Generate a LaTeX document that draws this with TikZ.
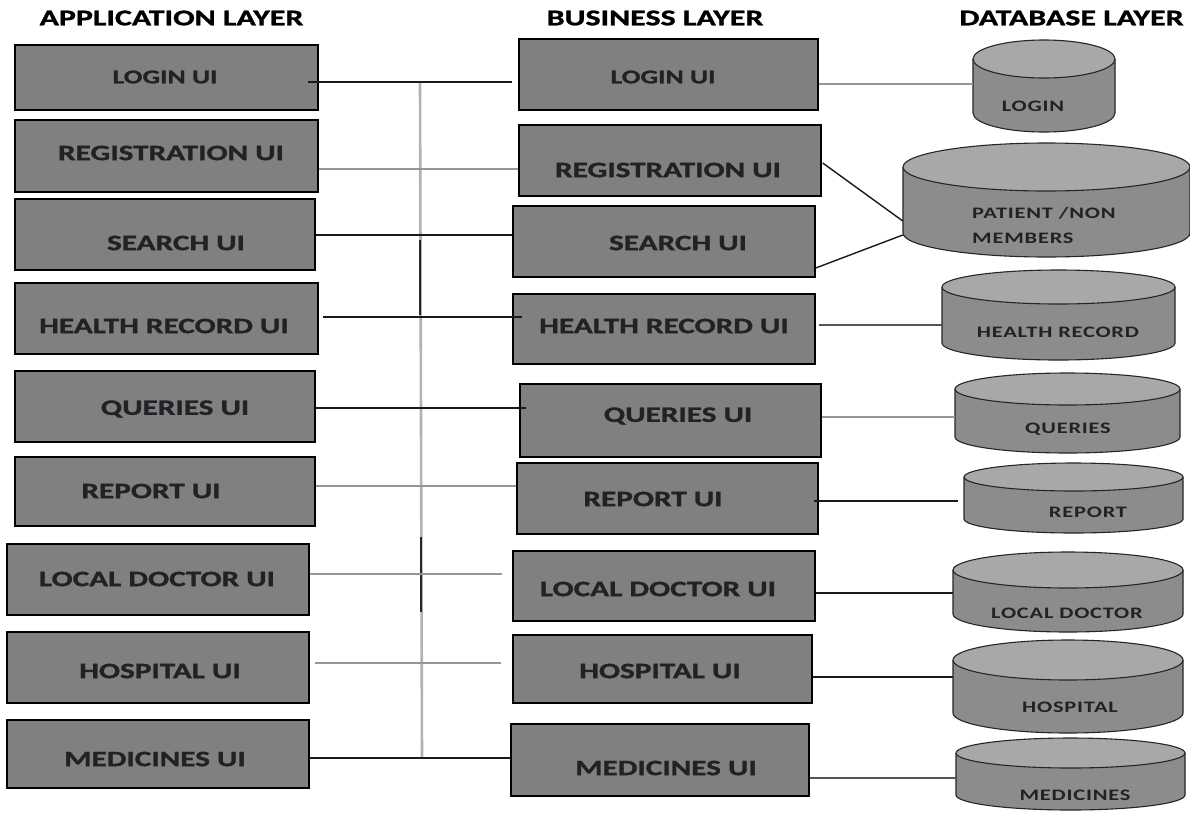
\documentclass[tikz,border=0pt]{standalone}
\usepackage{fontspec}
\setmainfont{Carlito}[FakeStretch=1.42, FakeBold=1.2]
\newfontfamily\cylfont{Carlito}[FakeStretch=1.4, LetterSpace=5]
\usetikzlibrary{calc}
\definecolor{boxgray}{RGB}{128,128,128}
\definecolor{cylbodyc}{RGB}{140,140,140}
\definecolor{cyltopc}{RGB}{168,168,168}
\definecolor{txtc}{RGB}{34,34,38}
\definecolor{linegray}{RGB}{150,150,150}
\definecolor{linedark}{RGB}{85,85,85}
\definecolor{busgray}{RGB}{178,178,178}

\newcommand{\dbcyl}[5]{%
  \pgfmathsetmacro{\cyA}{(#1+#2)/2}%
  \pgfmathsetmacro{\cyR}{(#2-#1)/2}%
  \pgfmathsetmacro{\cyT}{#3+#5}%
  \pgfmathsetmacro{\cyB}{#4-#5}%
  \pgfmathsetmacro{\cyKx}{0.5523*\cyR}%
  \pgfmathsetmacro{\cyKy}{0.5523*#5}%
  \filldraw[cylside] (#1,\cyT) -- (#1,\cyB) .. controls (#1,\cyB+\cyKy) and (\cyA-\cyKx,#4) .. (\cyA,#4) .. controls (\cyA+\cyKx,#4) and (#2,\cyB+\cyKy) .. (#2,\cyB) -- (#2,\cyT);
  \filldraw[cyltop] (\cyA,\cyT) ellipse [x radius=\cyR pt, y radius=#5 pt];
}

\tikzset{
  ubox/.style={draw=black, line width=1.4pt, fill=boxgray, inner sep=0pt},
  lbl/.style={font=\bfseries\fontsize{22}{22}\selectfont, text=txtc, inner sep=0pt},
  lblsmall/.style={font=\bfseries\fontsize{19.5}{19.5}\selectfont, text=txtc, inner sep=0pt},
  hdr/.style={font=\bfseries\fontsize{22.5}{22.5}\selectfont, text=black, inner sep=0pt},
  cylnode/.style={inner sep=0pt, draw=none},
  cyllbl/.style={font=\cylfont\bfseries\fontsize{16}{25}\selectfont, text=txtc, inner sep=0pt},
  cylside/.style={fill=cylbodyc, draw=black!85, line width=1.1pt},
  cyltop/.style={fill=cyltopc, draw=black!85, line width=1.1pt},
  blk/.style={draw=black!90, line width=1.4pt},
  gry/.style={draw=linegray, line width=1.8pt},
  drk/.style={draw=linedark, line width=1.6pt},
  bus/.style={draw=busgray, line width=2.6pt},
  busblk/.style={draw=black!85, line width=1.8pt}
}

\begin{document}
\begin{tikzpicture}[x=1pt, y=-1pt]
\path[use as bounding box, fill=white] (0,0) rectangle (1190,812);

% headers
\node[hdr] (h1) at (171.5,18) {APPLICATION LAYER};
\node[hdr] (h2) at (655,18) {BUSINESS LAYER};
\node[hdr] (h3) at (1071.5,18) {DATABASE LAYER};

% application layer boxes
\node[ubox, minimum width=303pt, minimum height=65pt] (a1) at (166.5,77.5) {};
\node[ubox, minimum width=303pt, minimum height=72pt] (a2) at (166.5,156) {};
\node[ubox, minimum width=300pt, minimum height=71pt] (a3) at (165,234.5) {};
\node[ubox, minimum width=303pt, minimum height=71pt] (a4) at (166.5,318.5) {};
\node[ubox, minimum width=300pt, minimum height=71pt] (a5) at (165,406.5) {};
\node[ubox, minimum width=300pt, minimum height=69pt] (a6) at (165,491.5) {};
\node[ubox, minimum width=302pt, minimum height=71pt] (a7) at (158,579.5) {};
\node[ubox, minimum width=302pt, minimum height=71pt] (a8) at (158,667.5) {};
\node[ubox, minimum width=302pt, minimum height=68pt] (a9) at (158,754) {};

\node[lblsmall] (a1t) at (165,77) {LOGIN UI};
\node[lbl] (a2t) at (171,153) {REGISTRATION UI};
\node[lbl] (a3t) at (176,243) {SEARCH UI};
\node[lbl] (a4t) at (164,326) {HEALTH RECORD UI};
\node[lbl] (a5t) at (175,409) {QUERIES UI};
\node[lbl] (a6t) at (151,491) {REPORT UI};
\node[lbl] (a7t) at (157,579) {LOCAL DOCTOR UI};
\node[lbl] (a8t) at (160,671) {HOSPITAL UI};
\node[lbl] (a9t) at (155,759) {MEDICINES UI};

% business layer boxes
\node[ubox, minimum width=299pt, minimum height=71pt] (b1) at (668.5,74.5) {};
\node[ubox, minimum width=302pt, minimum height=71pt] (b2) at (670,160.5) {};
\node[ubox, minimum width=302pt, minimum height=71pt] (b3) at (664,241.5) {};
\node[ubox, minimum width=302pt, minimum height=70pt] (b4) at (664,329) {};
\node[ubox, minimum width=301pt, minimum height=73pt] (b5) at (670.5,420.5) {};
\node[ubox, minimum width=301pt, minimum height=71pt] (b6) at (667.5,498.5) {};
\node[ubox, minimum width=302pt, minimum height=70pt] (b7) at (664,586) {};
\node[ubox, minimum width=299pt, minimum height=68pt] (b8) at (662.5,669) {};
\node[ubox, minimum width=298pt, minimum height=72pt] (b9) at (660,760) {};

\node[lblsmall] (b1t) at (663,77) {LOGIN UI};
\node[lbl] (b2t) at (668,170) {REGISTRATION UI};
\node[lbl] (b3t) at (678,243) {SEARCH UI};
\node[lbl] (b4t) at (664,326) {HEALTH RECORD UI};
\node[lbl] (b5t) at (678,416) {QUERIES UI};
\node[lbl] (b6t) at (653,499) {REPORT UI};
\node[lbl] (b7t) at (658,589) {LOCAL DOCTOR UI};
\node[lbl] (b8t) at (660,671) {HOSPITAL UI};
\node[lbl] (b9t) at (666,768) {MEDICINES UI};

% database layer cylinders
\dbcyl{973}{1115}{40}{132}{19}
\dbcyl{903}{1190}{143}{257}{24}
\dbcyl{942}{1175}{270}{360}{17}
\dbcyl{955}{1180}{373}{453}{16}
\dbcyl{964}{1183}{463}{533}{14}
\dbcyl{953}{1183}{552}{632}{18}
\dbcyl{953}{1183}{640}{733}{20}
\dbcyl{956}{1185}{738}{810}{15}

\node[cylnode, minimum width=142pt, minimum height=92pt] (d1) at (1044,86) {};
\node[cylnode, minimum width=287pt, minimum height=114pt] (d2) at (1046.5,200) {};
\node[cylnode, minimum width=233pt, minimum height=90pt] (d3) at (1058.5,315) {};
\node[cylnode, minimum width=225pt, minimum height=80pt] (d4) at (1067.5,413) {};
\node[cylnode, minimum width=219pt, minimum height=70pt] (d5) at (1073.5,498) {};
\node[cylnode, minimum width=230pt, minimum height=80pt] (d6) at (1068,592) {};
\node[cylnode, minimum width=230pt, minimum height=93pt] (d7) at (1068,686.5) {};
\node[cylnode, minimum width=229pt, minimum height=72pt] (d8) at (1070.5,774) {};

\node[cyllbl] (d1t) at (1033,106) {LOGIN};
\node[cyllbl, align=left, anchor=west] (d2t) at (972,225.5) {PATIENT /NON\\MEMBERS};
\node[cyllbl] (d3t) at (1058,332) {HEALTH RECORD};
\node[cyllbl] (d4t) at (1068,429) {QUERIES};
\node[cyllbl] (d5t) at (1088,512) {REPORT};
\node[cyllbl] (d6t) at (1067,613) {LOCAL DOCTOR};
\node[cyllbl] (d7t) at (1070,707) {HOSPITAL};
\node[cyllbl] (d8t) at (1075,795) {MEDICINES};

% connector start points (application side)
\coordinate (a1o) at ($(a1.east)+(-11,4.5)$);
\coordinate (a2o) at ($(a2.east)+(0,13)$);
\coordinate (a3o) at ($(a3.east)+(0,0.5)$);
\coordinate (a4o) at ($(a4.east)+(4,-1.5)$);
\coordinate (a5o) at ($(a5.east)+(0,1.5)$);
\coordinate (a6o) at ($(a6.east)+(0,-5.5)$);
\coordinate (a7o) at ($(a7.east)+(0,-5.5)$);
\coordinate (a8o) at ($(a8.east)+(5,-4.5)$);
\coordinate (a9o) at ($(a9.east)+(0,4)$);

% vertical bus
\coordinate (bt) at (a1o -| 420,0);
\coordinate (bb) at (a9o -| 422,0);
\coordinate (bm1) at (420,240);
\coordinate (bm2) at (420,315);
\coordinate (bm3) at (421,537);
\coordinate (bm4) at (421,612);
\draw[bus] (bt) -- (bb);
\draw[busblk] (bm1) -- (bm2);
\draw[busblk] (bm3) -- (bm4);

% application -> business connectors
\draw[blk] (a1o) -- ($(a1o -| b1.west)+(-6,0)$);
\draw[gry] (a2o) -- (a2o -| b2.west);
\draw[blk] (a3o) -- (a3o -| b3.west);
\draw[blk] (a4o) -- ($(a4o -| b4.west)+(10,0)$);
\draw[blk] (a5o) -- ($(a5o -| b5.west)+(7,0)$);
\draw[gry] (a6o) -- (a6o -| b6.west);
\draw[gry] (a7o) -- ($(a7o -| b7.west)+(-10,0)$);
\draw[gry] (a8o) -- ($(a8o -| b8.west)+(-11,0)$);
\draw[blk] (a9o) -- (a9o -| b9.west);

% business -> database connectors
\coordinate (b1o) at ($(b1.east)+(0,9.5)$);
\coordinate (b2o) at ($(b2.east)+(1,2.5)$);
\coordinate (b3o) at ($(b3.east)+(0,26.5)$);
\coordinate (b4o) at ($(b4.east)+(3,-4)$);
\coordinate (b5o) at ($(b5.east)+(0,-3.5)$);
\coordinate (b6o) at ($(b6.east)+(-5,2.5)$);
\coordinate (b7o) at ($(b7.east)+(0,7)$);
\coordinate (b8o) at ($(b8.east)+(0,8)$);
\coordinate (b9o) at ($(b9.east)+(0,18)$);
\coordinate (d2i1) at ($(d2.west)+(0,21)$);
\coordinate (d2i2) at ($(d2.west)+(0,35)$);

\draw[gry] (b1o) -- (b1o -| d1.west);
\draw[blk] (b2o) -- (d2i1);
\draw[blk] (b3o) -- (d2i2);
\draw[drk] (b4o) -- (b4o -| d3.west);
\draw[gry] (b5o) -- (b5o -| d4.west);
\draw[blk] (b6o) -- ($(b6o -| d5.west)+(-6,0)$);
\draw[blk] (b7o) -- (b7o -| d6.west);
\draw[blk] (b8o) -- (b8o -| d7.west);
\draw[drk] (b9o) -- (b9o -| d8.west);
\end{tikzpicture}
\end{document}
